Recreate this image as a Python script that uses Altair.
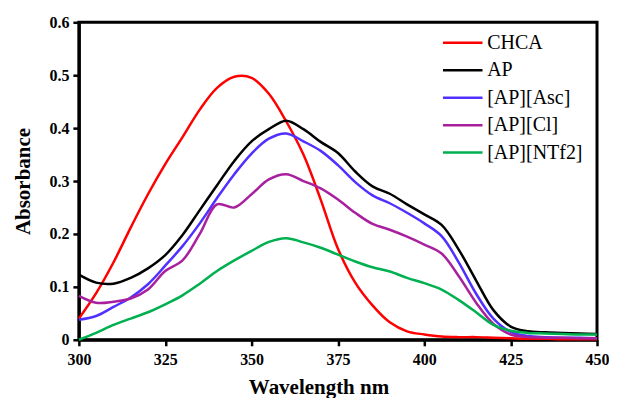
import altair as alt
import pandas as pd

wavelength = [300, 305, 310, 315, 320, 325, 330, 335, 340, 345, 350, 355, 360, 365, 370,
              375, 380, 385, 390, 395, 400, 405, 410, 415, 420, 425, 430, 435, 440, 445, 450]

chca = [0.040, 0.088, 0.146, 0.212, 0.275, 0.332, 0.383, 0.435, 0.476, 0.497, 0.495, 0.465,
        0.413, 0.350, 0.265, 0.172, 0.108, 0.065, 0.033, 0.016, 0.010, 0.006, 0.005, 0.005,
        0.004, 0.003, 0.002, 0.002, 0.001, 0.001, 0.001]
ap = [0.123, 0.108, 0.106, 0.117, 0.135, 0.160, 0.198, 0.245, 0.292, 0.338, 0.375, 0.398,
      0.414, 0.398, 0.374, 0.353, 0.318, 0.290, 0.276, 0.256, 0.237, 0.217, 0.170, 0.112,
      0.056, 0.025, 0.016, 0.014, 0.013, 0.012, 0.011]
ap_asc = [0.038, 0.045, 0.062, 0.080, 0.105, 0.140, 0.177, 0.220, 0.268, 0.313, 0.352, 0.380,
          0.390, 0.375, 0.357, 0.330, 0.298, 0.273, 0.258, 0.240, 0.220, 0.196, 0.146, 0.087,
          0.040, 0.015, 0.007, 0.005, 0.004, 0.004, 0.003]
ap_cl = [0.083, 0.070, 0.072, 0.078, 0.095, 0.130, 0.150, 0.200, 0.256, 0.250, 0.275, 0.303,
         0.313, 0.300, 0.286, 0.265, 0.240, 0.219, 0.208, 0.195, 0.180, 0.163, 0.120, 0.070,
         0.030, 0.010, 0.005, 0.004, 0.004, 0.003, 0.003]
ap_ntf2 = [0.000, 0.013, 0.028, 0.040, 0.052, 0.067, 0.084, 0.106, 0.130, 0.150, 0.168, 0.185,
           0.192, 0.184, 0.174, 0.161, 0.148, 0.137, 0.129, 0.117, 0.107, 0.095, 0.075, 0.052,
           0.028, 0.017, 0.013, 0.012, 0.011, 0.010, 0.010]

series_names = ["CHCA", "AP", "[AP][Asc]", "[AP][Cl]", "[AP][NTf2]"]
colors = ["#ff0000", "#000000", "#5030ff", "#a8209e", "#00b050"]
x_ticks = [300, 325, 350, 375, 400, 425, 450]
y_ticks = [0, 0.1, 0.2, 0.3, 0.4, 0.5, 0.6]

rows = []
for name, vals in zip(series_names, [chca, ap, ap_asc, ap_cl, ap_ntf2]):
    for w, v in zip(wavelength, vals):
        rows.append({"wavelength": w, "absorbance": v, "series": name})
df = pd.DataFrame(rows)

chart = alt.Chart(df).mark_line(strokeWidth=2.5, interpolate="catmull-rom").encode(
    x=alt.X("wavelength:Q",
            scale=alt.Scale(domain=[300, 450], nice=False),
            axis=alt.Axis(values=x_ticks, title="Wavelength nm", labelFontSize=16,
                          labelPadding=6, titlePadding=9, titleX=240, titleAnchor="middle")),
    y=alt.Y("absorbance:Q",
            scale=alt.Scale(domain=[0, 0.6], nice=False),
            axis=alt.Axis(values=y_ticks, title="Absorbance", titlePadding=15,
                          labelPadding=4,
                          labelExpr="datum.value == 0 ? '0' : format(datum.value, '.1f')")),
    color=alt.Color("series:N",
                    scale=alt.Scale(domain=series_names, range=colors),
                    legend=alt.Legend(title=None, orient="none", legendX=372, legendY=8,
                                      symbolType="M-1.8,0H1.8", symbolSize=484,
                                      symbolStrokeWidth=2.5, labelOffset=12,
                                      labelFont="Liberation Serif", labelFontSize=20,
                                      labelColor="black", rowPadding=4.5, padding=0)),
).properties(
    width=519, height=318,
    autosize=alt.AutoSizeParams(type="none"),
    padding={"left": 71, "top": 14, "right": 12, "bottom": 58},
).configure_view(
    stroke="black", strokeWidth=3
).configure_axis(
    grid=False, domainColor="black", domainWidth=3, tickColor="black", tickWidth=2.5,
    tickSize=6, labelFlush=False, labelFont="Liberation Serif", labelFontWeight="bold",
    labelFontSize=16, labelColor="black", titleFont="Liberation Serif", titleFontSize=21,
    titleFontWeight="bold", titleColor="black"
)

chart.save("out.html", embed_options={"renderer": "svg", "actions": False})
